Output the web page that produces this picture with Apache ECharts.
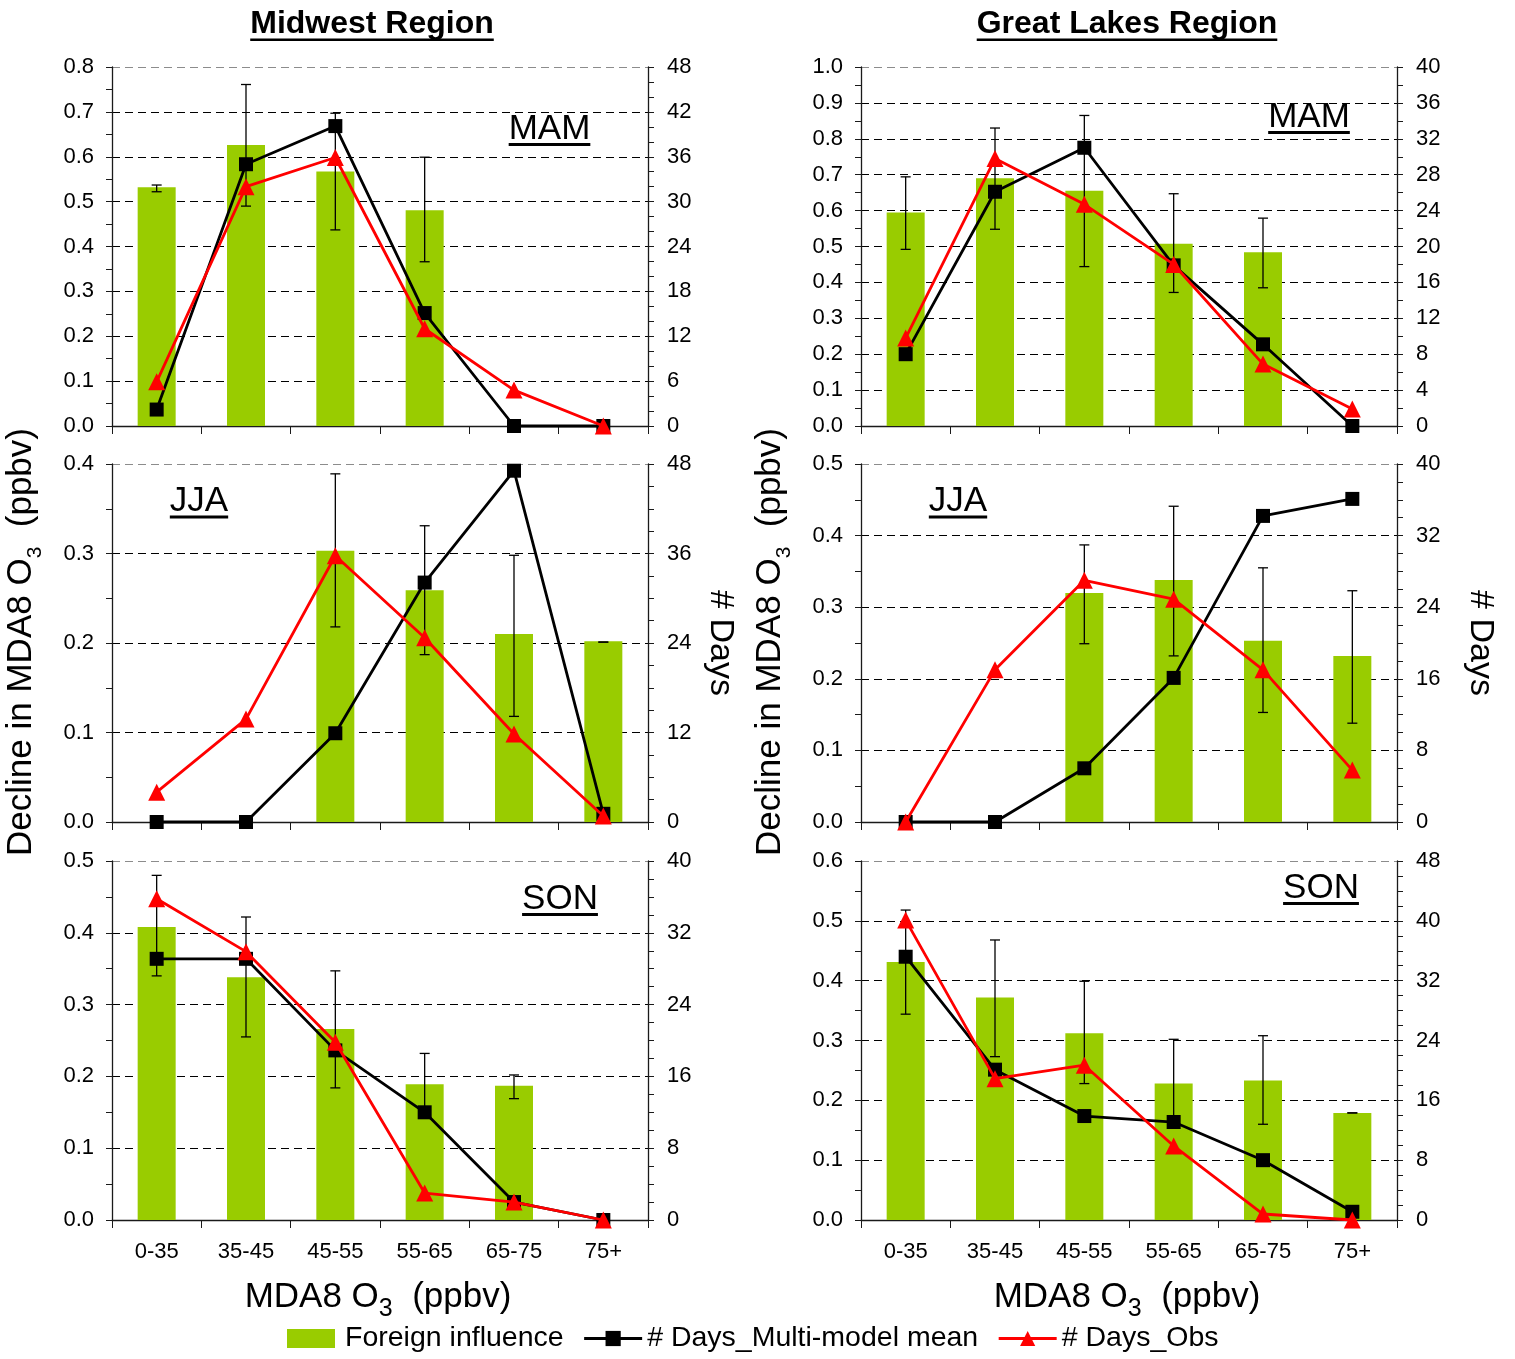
<!DOCTYPE html>
<html>
<head>
<meta charset="utf-8">
<title>Foreign influence on MDA8 O3 – Midwest and Great Lakes</title>
<script src="https://cdn.jsdelivr.net/npm/echarts@6/dist/echarts.min.js"></script>
<style>
  html, body { margin: 0; padding: 0; background: #ffffff; }
  #chart { width: 1515px; height: 1359px; }
</style>
</head>
<body>
<div id="chart"></div>
<script>
// ---- data -------------------------------------------------------------
const categories = ['0-35', '35-45', '45-55', '55-65', '65-75', '75+'];

// Midwest, MAM
const mwMamForeign = [0.532, 0.626, 0.567, 0.481, 0, 0];
const mwMamErrLow  = [0.522, 0.490, 0.437, 0.366, null, null];
const mwMamErrHigh = [0.537, 0.761, 0.697, 0.599, null, null];
const mwMamModel   = [2.2, 35.0, 40.1, 15.1, 0, 0];
const mwMamObs     = [5.9, 32.0, 35.9, 13.0, 4.8, 0];

// Midwest, JJA
const mwJjaForeign = [0, 0, 0.303, 0.259, 0.210, 0.202];
const mwJjaErrLow  = [null, null, 0.218, 0.187, 0.118, 0.201];
const mwJjaErrHigh = [null, null, 0.389, 0.331, 0.298, 0.201];
const mwJjaModel   = [0, 0, 11.9, 32.1, 47.1, 1.1];
const mwJjaObs     = [4.0, 13.8, 35.7, 24.7, 11.8, 0.8];

// Midwest, SON
const mwSonForeign = [0.408, 0.338, 0.266, 0.189, 0.187, 0];
const mwSonErrLow  = [0.340, 0.255, 0.184, 0.150, 0.169, null];
const mwSonErrHigh = [0.480, 0.422, 0.347, 0.232, 0.202, null];
const mwSonModel   = [29.1, 29.1, 18.9, 12.0, 2.0, 0];
const mwSonObs     = [35.8, 29.9, 19.8, 3.0, 2.0, 0];

// Great Lakes, MAM
const glMamForeign = [0.595, 0.690, 0.655, 0.508, 0.484, 0];
const glMamErrLow  = [0.492, 0.548, 0.444, 0.372, 0.385, null];
const glMamErrHigh = [0.694, 0.830, 0.865, 0.647, 0.579, null];
const glMamModel   = [8.0, 26.1, 31.0, 17.9, 9.1, 0];
const glMamObs     = [9.8, 29.8, 24.7, 18.0, 6.9, 1.9];

// Great Lakes, JJA
const glJjaForeign = [0, 0, 0.320, 0.338, 0.253, 0.232];
const glJjaErrLow  = [null, null, 0.249, 0.232, 0.153, 0.138];
const glJjaErrHigh = [null, null, 0.387, 0.441, 0.355, 0.323];
const glJjaModel   = [0, 0, 6.0, 16.1, 34.2, 36.1];
const glJjaObs     = [0, 17.0, 27.0, 24.9, 17.0, 5.8];

// Great Lakes, SON
const glSonForeign = [0.431, 0.372, 0.312, 0.228, 0.233, 0.179];
const glSonErrLow  = [0.344, 0.273, 0.228, 0.160, 0.160, 0.179];
const glSonErrHigh = [0.518, 0.468, 0.399, 0.302, 0.308, 0.179];
const glSonModel   = [35.2, 20.1, 13.9, 13.1, 8.0, 1.1];
const glSonObs     = [40.1, 18.9, 20.7, 9.9, 0.8, 0];

// ---- layout / styling -------------------------------------------------
const FONT = 'Liberation Sans';
const AXIS_COLOR = '#1a1a1a';
const BAR_COLOR = '#99CC00';
const TICK_FONT = 22;

const colLeft = [112, 861];
const colWidth = 536;
const rowTop = [67, 464, 861];
const rowHeight = [359, 358, 359];

const panels = [
  { foreign: mwMamForeign, low: mwMamErrLow, high: mwMamErrHigh, model: mwMamModel, obs: mwMamObs,
    leftMax: 0.8, rightMax: 48, rightStep: 6, rightMinor: 3, col: 0, row: 0 },
  { foreign: mwJjaForeign, low: mwJjaErrLow, high: mwJjaErrHigh, model: mwJjaModel, obs: mwJjaObs,
    leftMax: 0.4, rightMax: 48, rightStep: 12, rightMinor: 4, col: 0, row: 1 },
  { foreign: mwSonForeign, low: mwSonErrLow, high: mwSonErrHigh, model: mwSonModel, obs: mwSonObs,
    leftMax: 0.5, rightMax: 40, rightStep: 8, rightMinor: 4, col: 0, row: 2 },
  { foreign: glMamForeign, low: glMamErrLow, high: glMamErrHigh, model: glMamModel, obs: glMamObs,
    leftMax: 1.0, rightMax: 40, rightStep: 4, rightMinor: 2, col: 1, row: 0 },
  { foreign: glJjaForeign, low: glJjaErrLow, high: glJjaErrHigh, model: glJjaModel, obs: glJjaObs,
    leftMax: 0.5, rightMax: 40, rightStep: 8, rightMinor: 4, col: 1, row: 1 },
  { foreign: glSonForeign, low: glSonErrLow, high: glSonErrHigh, model: glSonModel, obs: glSonObs,
    leftMax: 0.6, rightMax: 48, rightStep: 8, rightMinor: 4, col: 1, row: 2 }
];

// ---- helpers ----------------------------------------------------------
const measureCtx = document.createElement('canvas').getContext('2d');
function textWidth(str, size, weight) {
  measureCtx.font = (weight || 'normal') + ' ' + size + 'px "' + FONT + '"';
  return measureCtx.measureText(str).width;
}

function errorData(low, high) {
  return low.map((lo, i) => (lo == null ? null : [i, lo, high[i]])).filter(d => d);
}

function renderErrorBar(params, api) {
  const idx = api.value(0);
  const top = api.coord([idx, api.value(2)]);
  const bot = api.coord([idx, api.value(1)]);
  const cap = 5;
  const st = () => ({ stroke: '#000', lineWidth: 1.3 });
  return {
    type: 'group',
    children: [
      { type: 'line', shape: { x1: top[0], y1: top[1], x2: bot[0], y2: bot[1] }, style: st() },
      { type: 'line', shape: { x1: top[0] - cap, y1: top[1], x2: top[0] + cap, y2: top[1] }, style: st() },
      { type: 'line', shape: { x1: bot[0] - cap, y1: bot[1], x2: bot[0] + cap, y2: bot[1] }, style: st() }
    ]
  };
}

// text with an underline, centred on (cx, cy)
function underlinedText(str, cx, cy, size, weight, lineOffset, lineThick) {
  const w = textWidth(str, size, weight);
  return [
    { type: 'text', x: cx, y: cy, z: 100,
      style: { text: str, fontSize: size, fontWeight: weight || 'normal', fontFamily: FONT, fill: '#000',
               align: 'center', verticalAlign: 'middle', textAlign: 'center', textVerticalAlign: 'middle' } },
    { type: 'rect', z: 100, shape: { x: cx - w / 2, y: cy + lineOffset, width: w, height: lineThick },
      style: { fill: '#000' } }
  ];
}

// a run of text pieces (used for the O3 subscript), centred on (cx, cy), optionally rotated
function textRun(parts, cx, cy, rotation) {
  const widths = parts.map(p => textWidth(p.t, p.size));
  const total = widths.reduce((a, b) => a + b, 0);
  let cursor = -total / 2;
  const children = parts.map((p, i) => {
    const el = { type: 'text', x: cursor, y: p.dy || 0,
      style: { text: p.t, fontSize: p.size, fontFamily: FONT, fill: '#000',
               align: 'left', verticalAlign: 'middle', textAlign: 'left', textVerticalAlign: 'middle' } };
    cursor += widths[i];
    return el;
  });
  return { type: 'group', x: cx, y: cy, rotation: rotation || 0, z: 100, children };
}

// ---- option -----------------------------------------------------------
const grids = [], xAxes = [], yAxes = [], series = [];

panels.forEach((p, i) => {
  grids.push({
    left: colLeft[p.col], top: rowTop[p.row], width: colWidth, height: rowHeight[p.row],
    containLabel: false, outerBoundsMode: 'none'
  });

  xAxes.push({
    gridIndex: i, type: 'category', data: categories, boundaryGap: true,
    axisLine: { show: true, lineStyle: { color: AXIS_COLOR, width: 1.3 } },
    axisTick: { show: true, inside: false, length: 8, alignWithLabel: false, lineStyle: { color: AXIS_COLOR, width: 1 } },
    axisLabel: { show: p.row === 2, interval: 0, fontSize: TICK_FONT, fontFamily: FONT, color: '#000', margin: 21 },
    splitLine: { show: false }
  });

  const nLines = Math.round(p.leftMax / 0.1) + 1;
  const gridColors = Array.from({ length: nLines }, (_, k) => (k === nLines - 1 ? '#8c8c8c' : '#000'));

  yAxes.push({
    gridIndex: i, type: 'value', position: 'left', min: 0, max: p.leftMax, interval: 0.1,
    axisLine: { show: true, lineStyle: { color: AXIS_COLOR, width: 1.3 } },
    axisTick: { show: true, inside: false, length: 6, lineStyle: { color: AXIS_COLOR, width: 1 } },
    minorTick: { show: true, splitNumber: 2, length: 6, lineStyle: { color: AXIS_COLOR, width: 1 } },
    axisLabel: { fontSize: TICK_FONT, fontFamily: FONT, color: '#000', margin: 18,
                 showMinLabel: true, showMaxLabel: true, formatter: v => v.toFixed(1) },
    splitLine: { show: true, lineStyle: { color: gridColors, type: [8, 5], width: 1 } },
    minorSplitLine: { show: false }
  });

  yAxes.push({
    gridIndex: i, type: 'value', position: 'right', min: 0, max: p.rightMax, interval: p.rightStep,
    axisLine: { show: true, lineStyle: { color: AXIS_COLOR, width: 1.3 } },
    axisTick: { show: true, inside: false, length: 6, lineStyle: { color: AXIS_COLOR, width: 1 } },
    minorTick: { show: true, splitNumber: p.rightMinor, length: 6, lineStyle: { color: AXIS_COLOR, width: 1 } },
    axisLabel: { fontSize: TICK_FONT, fontFamily: FONT, color: '#000', margin: 19,
                 showMinLabel: true, showMaxLabel: true, formatter: v => String(Math.round(v)) },
    splitLine: { show: false },
    minorSplitLine: { show: false }
  });

  series.push({
    type: 'bar', name: 'Foreign influence', xAxisIndex: i, yAxisIndex: 2 * i,
    data: p.foreign, barWidth: 38, itemStyle: { color: BAR_COLOR }, z: 2
  });
  series.push({
    type: 'custom', xAxisIndex: i, yAxisIndex: 2 * i,
    data: errorData(p.low, p.high), encode: { x: 0, y: [1, 2] },
    renderItem: renderErrorBar, z: 3, silent: true
  });
  series.push({
    type: 'line', name: '# Days_Multi-model mean', xAxisIndex: i, yAxisIndex: 2 * i + 1,
    data: p.model, symbol: 'rect', symbolSize: 14, clip: false,
    lineStyle: { color: '#000', width: 2.8 }, itemStyle: { color: '#000' }, z: 4
  });
  series.push({
    type: 'line', name: '# Days_Obs', xAxisIndex: i, yAxisIndex: 2 * i + 1,
    data: p.obs, symbol: 'triangle', symbolSize: 17, clip: false,
    lineStyle: { color: '#FF0000', width: 2.8 }, itemStyle: { color: '#FF0000' }, z: 5
  });
});

const graphics = [];
// region titles
graphics.push(...underlinedText('Midwest Region', 372, 24, 32, 'bold', 14.5, 2.5));
graphics.push(...underlinedText('Great Lakes Region', 1127, 24, 32, 'bold', 14.5, 2.5));
// season tags
[
  ['MAM', 549.5, 129], ['JJA', 199, 501.5], ['SON', 560, 899],
  ['MAM', 1309, 117], ['JJA', 958, 501.5], ['SON', 1321, 888]
].forEach(([t, x, y]) => graphics.push(...underlinedText(t, x, y, 35, 'normal', 14, 3)));

// axis titles
const yTitle = [{ t: 'Decline in MDA8 O', size: 35 }, { t: '3', size: 21, dy: 14 }, { t: '  (ppbv)', size: 35 }];
const xTitle = [{ t: 'MDA8 O', size: 35 }, { t: '3', size: 25, dy: 12 }, { t: '  (ppbv)', size: 35 }];
graphics.push(textRun(yTitle, 21.5, 642, Math.PI / 2));
graphics.push(textRun(yTitle, 770.5, 642, Math.PI / 2));
graphics.push(textRun([{ t: '# Days', size: 34 }], 720, 643, -Math.PI / 2));
graphics.push(textRun([{ t: '# Days', size: 34 }], 1480, 643, -Math.PI / 2));
graphics.push(textRun(xTitle, 378, 1297, 0));
graphics.push(textRun(xTitle, 1127, 1297, 0));

const option = {
  backgroundColor: '#ffffff',
  animation: false,
  textStyle: { fontFamily: FONT },
  grid: grids,
  xAxis: xAxes,
  yAxis: yAxes,
  series: series,
  legend: {
    left: 287, top: 1324, padding: 0, orient: 'horizontal',
    itemWidth: 58, itemHeight: 19, itemGap: 19, selectedMode: false,
    textStyle: { fontSize: 28.5, fontFamily: FONT, color: '#000' },
    data: [
      { name: 'Foreign influence', icon: 'path://M0,0h48v19h-48z' },
      { name: '# Days_Multi-model mean', lineStyle: { width: 3, color: '#000' } },
      { name: '# Days_Obs', lineStyle: { width: 3, color: '#FF0000' } }
    ]
  },
  graphic: graphics
};

const chart = echarts.init(document.getElementById('chart'), null, { renderer: 'canvas' });
chart.setOption(option);
</script>
</body>
</html>
